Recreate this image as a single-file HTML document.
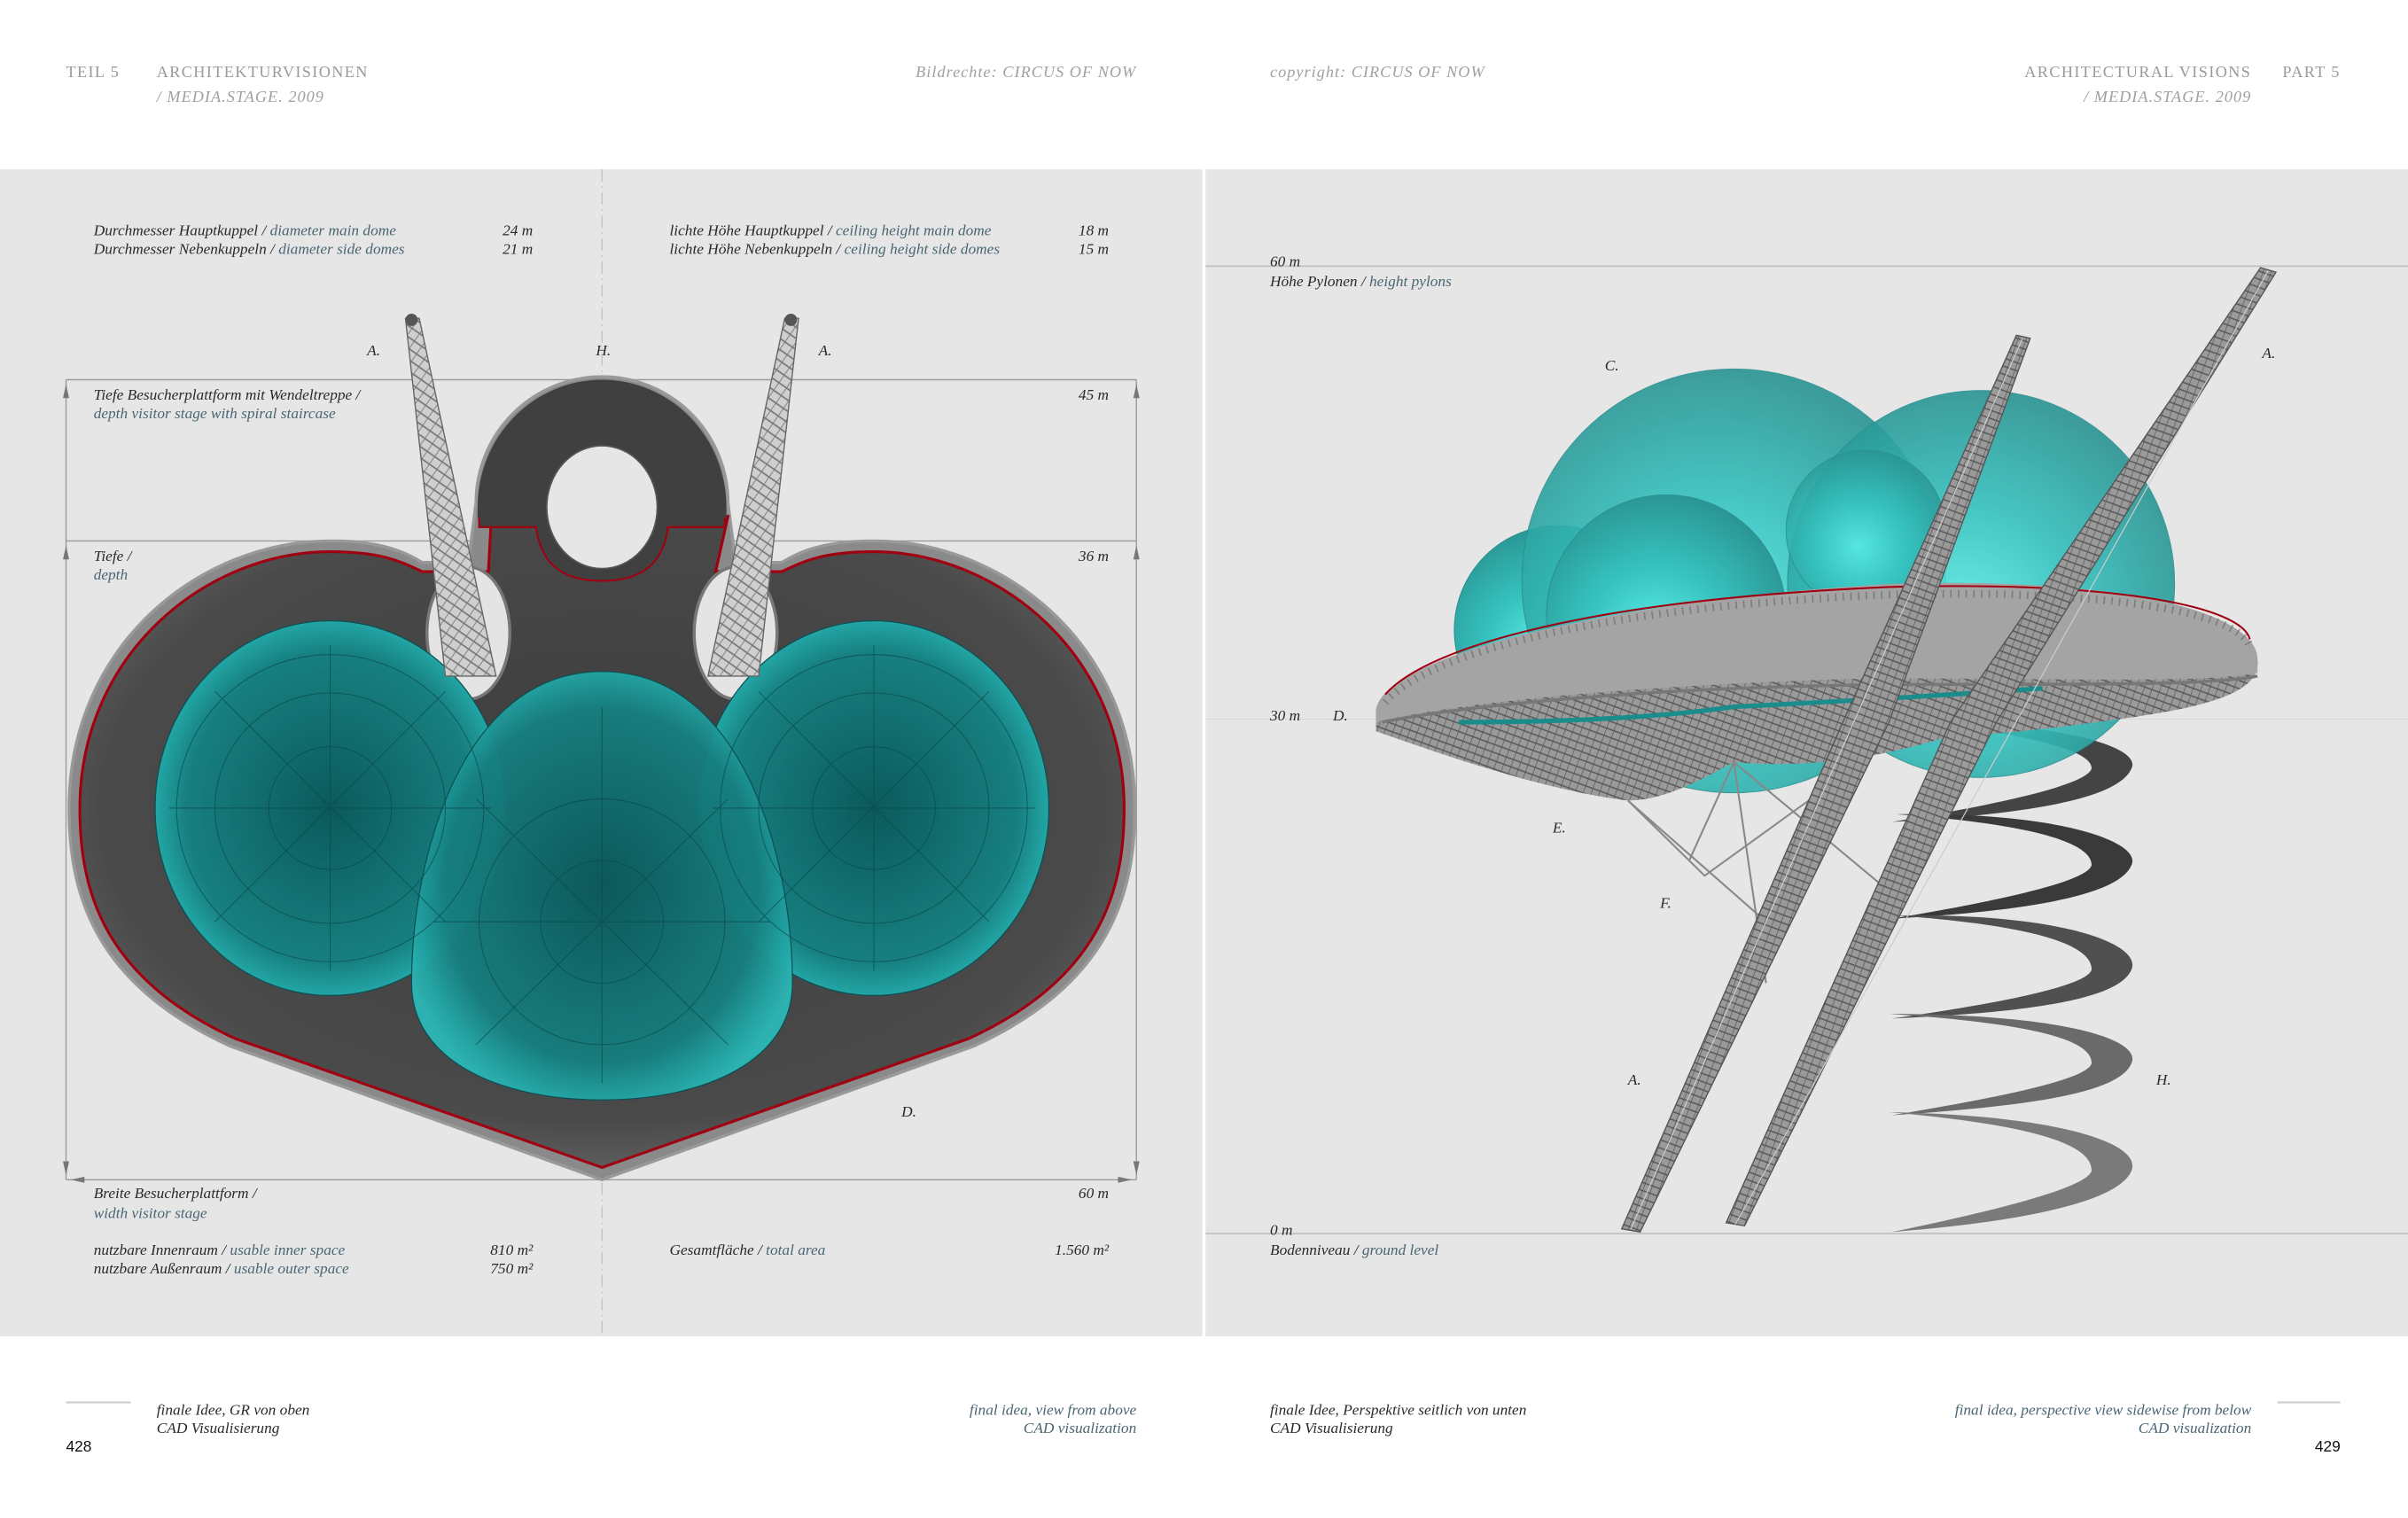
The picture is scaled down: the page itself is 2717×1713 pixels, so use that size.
<!DOCTYPE html>
<html><head><meta charset="utf-8"><style>
html,body{margin:0;padding:0;background:#fff;}
svg{display:block;}
text{font-family:"Liberation Serif",serif;font-style:italic;font-size:10px;fill:#2a2a2a;}
.b{fill:#4a6672;}
.h{font-style:normal;fill:#9a9a9a;font-size:10.5px;letter-spacing:0.8px;}
.hi{fill:#a0a0a0;font-size:10.5px;letter-spacing:0.6px;}
.r{text-anchor:end;}
.n{font-style:normal;font-family:"Liberation Sans",sans-serif;font-size:10px;fill:#111;}
</style></head><body>
<svg width="2717" height="1713" viewBox="0 0 1568 988" xmlns="http://www.w3.org/2000/svg">
<defs>
<radialGradient id="dome" cx="50%" cy="50%" r="55%">
<stop offset="0" stop-color="#0b5a5c"/><stop offset="0.75" stop-color="#177f80"/><stop offset="0.9" stop-color="#22a3a3"/><stop offset="1" stop-color="#2bb7b6"/></radialGradient>
<radialGradient id="body" cx="50%" cy="45%" r="60%">
<stop offset="0" stop-color="#3c3c3c"/><stop offset="0.8" stop-color="#4a4a4a"/><stop offset="1" stop-color="#6a6a6a"/></radialGradient>
<radialGradient id="d3" cx="45%" cy="60%" r="60%">
<stop offset="0" stop-color="#5ff0ec"/><stop offset="0.5" stop-color="#35c2bf"/><stop offset="1" stop-color="#2a9593"/></radialGradient>
<pattern id="lat" width="6" height="6" patternUnits="userSpaceOnUse" patternTransform="rotate(35)">
<rect width="6" height="6" fill="#cfcfcf"/><path d="M0,0 L0,6 M0,3 L6,3" stroke="#777" stroke-width="1"/></pattern>
<pattern id="lat2" width="5" height="5" patternUnits="userSpaceOnUse" patternTransform="rotate(20)">
<rect width="5" height="5" fill="#9a9a9a"/><path d="M0,0 L0,5 M0,2.5 L5,2.5" stroke="#555" stroke-width="0.8"/></pattern>
</defs>
<rect x="0" y="110" width="783" height="760" fill="#e6e6e6"/>
<rect x="785" y="110" width="783" height="760" fill="#e6e6e6"/>
<line x1="392" y1="110" x2="392" y2="870" stroke="#bbb" stroke-width="0.6" stroke-dasharray="8,3,1,3"/>

<g stroke="#9a9a9a" stroke-width="0.8" fill="none">
<line x1="43" y1="247" x2="740" y2="247"/>
<line x1="43" y1="352" x2="740" y2="352"/>
<line x1="43" y1="768" x2="740" y2="768"/>
<line x1="43" y1="247" x2="43" y2="768"/>
<line x1="740" y1="247" x2="740" y2="768"/>
</g>
<g fill="#777">
<path d="M43,250 l-2,9 h4z"/><path d="M740,250 l-2,9 h4z"/>
<path d="M43,355 l-2,9 h4z"/><path d="M740,355 l-2,9 h4z"/>
<path d="M43,765 l-2,-9 h4z"/><path d="M740,765 l-2,-9 h4z"/>
<path d="M46,768 l9,-2 v4z"/><path d="M737,768 l-9,-2 v4z"/>
</g>

<path d="M392,768 L150,681 C60,640 45,580 45,526 C45,420 130,352 215,352 C250,352 265,360 275,366 L305,366 L310,327 A82,82 0 0 1 474,327 L479,366 L509,366 C519,360 534,352 569,352 C654,352 739,420 739,526 C739,580 724,640 634,681 Z" fill="#8a8a8a" stroke="#999" stroke-width="2"/>
<path d="M392,760 L153,676 C66,636 52,578 52,526 C52,426 134,359 215,359 C250,359 262,366 275,372 L318,372 L320,336 L474,336 L466,372 L509,372 C522,366 534,359 569,359 C650,359 732,426 732,526 C732,578 718,636 631,676 Z" fill="url(#body)" stroke="#a00010" stroke-width="1.8"/>
<path d="M312,330 A80,82 0 0 1 472,330 L472,343 L435,343 C432,365 420,378 392,378 C364,378 352,365 349,343 L312,343 Z" fill="#404040" stroke="#a00010" stroke-width="1.2"/>
<path d="M311,330 A81,83 0 0 1 473,330 L473,337 L311,337Z" fill="#404040"/>
<ellipse cx="392" cy="330" rx="36" ry="40" fill="#e6e6e6" stroke="#555" stroke-width="1"/>

<ellipse cx="305" cy="412" rx="27" ry="43" fill="#e4e4e4" stroke="#777" stroke-width="2"/>
<ellipse cx="479" cy="412" rx="27" ry="43" fill="#e4e4e4" stroke="#777" stroke-width="2"/>

<g stroke="#0c4e50" stroke-width="0.7">
<ellipse cx="215" cy="526" rx="114" ry="122" fill="url(#dome)"/>
<ellipse cx="569" cy="526" rx="114" ry="122" fill="url(#dome)"/>
<path d="M268,640 C268,560 300,437 392,437 C484,437 516,560 516,640 C516,690 460,716 392,716 C324,716 268,690 268,640 Z" fill="url(#dome)" opacity="0.96"/>
</g>
<g fill="none" stroke="#0a4a4c" stroke-width="0.6" opacity="0.7">
<circle cx="215" cy="526" r="40"/><circle cx="215" cy="526" r="75"/><circle cx="215" cy="526" r="100"/>
<circle cx="569" cy="526" r="40"/><circle cx="569" cy="526" r="75"/><circle cx="569" cy="526" r="100"/>
<circle cx="392" cy="600" r="40"/><circle cx="392" cy="600" r="80"/>
<path d="M215,420 V632 M110,526 H320 M140,450 L290,600 M140,600 L290,450 M569,420 V632 M464,526 H674 M494,450 L644,600 M494,600 L644,450 M392,460 V705 M282,600 H502 M310,520 L474,680 M310,680 L474,520"/>
</g>

<polygon points="264,207 273,207 323,440 290,440" fill="url(#lat)" stroke="#666" stroke-width="0.8"/>
<polygon points="520,207 511,207 461,440 494,440" fill="url(#lat)" stroke="#666" stroke-width="0.8"/>
<circle cx="268" cy="208" r="4" fill="#555"/><circle cx="515" cy="208" r="4" fill="#555"/>

<!-- RIGHT PAGE -->
<line x1="785" y1="173" x2="1568" y2="173" stroke="#c6c6c6" stroke-width="1.2"/>
<line x1="785" y1="468" x2="1568" y2="468" stroke="#d8d8d8" stroke-width="0.6"/>
<line x1="785" y1="803" x2="1568" y2="803" stroke="#c6c6c6" stroke-width="1.2"/>

<g>
<path d="M1250,470 C1340,470 1395,486 1388,500 C1380,520 1320,530 1232,535 C1310,522 1360,510 1362,500 C1362,488 1320,478 1250,470Z" fill="#444"/>
<path d="M1235,530 C1340,528 1395,548 1388,563 C1380,583 1320,593 1232,598 C1310,585 1360,573 1362,563 C1362,548 1320,536 1235,530Z" fill="#3a3a3a"/>
<path d="M1235,596 C1340,594 1395,614 1388,631 C1380,651 1320,659 1232,663 C1310,652 1360,641 1362,631 C1362,614 1320,602 1235,596Z" fill="#505050"/>
<path d="M1230,660 C1340,660 1395,676 1388,692 C1380,712 1320,720 1232,726 C1310,713 1360,702 1362,692 C1362,676 1320,666 1230,660Z" fill="#6a6a6a"/>
<path d="M1230,724 C1340,726 1395,744 1388,762 C1380,782 1320,795 1232,802 C1310,786 1360,772 1362,762 C1362,744 1320,732 1230,724Z" fill="#7a7a7a"/>
</g>

<g stroke="#2a8f8e" stroke-width="0.6">
<circle cx="1015" cy="410" r="68" fill="url(#d3)"/>
<circle cx="1129" cy="378" r="138" fill="url(#d3)" opacity="0.9"/>
<circle cx="1290" cy="380" r="126" fill="url(#d3)" opacity="0.9"/>
<circle cx="1085" cy="400" r="78" fill="url(#d3)" opacity="0.95"/>
<circle cx="1215" cy="345" r="52" fill="url(#d3)" opacity="0.8"/>
</g>

<!-- platform -->
<path d="M896,462 C898,440 1020,395 1230,380 C1390,375 1468,400 1470,430 C1472,450 1440,460 1380,468 C1330,475 1300,478 1270,479 C1220,495 1170,500 1129,496 C1100,512 1080,521 1060,521 C1010,515 950,495 896,476Z" fill="url(#lat2)"/>
<path d="M896,462 C900,430 1030,392 1230,380 C1390,375 1468,400 1470,428 L1470,438 C1430,446 1300,440 1200,442 C1080,446 960,455 896,470Z" fill="#a4a4a4"/>
<path d="M900,470 C960,458 1080,448 1200,446 C1300,444 1430,448 1470,440" fill="none" stroke="#777" stroke-width="2"/>
<path d="M902,452 C930,420 1040,390 1230,382 C1380,378 1460,395 1465,416" fill="none" stroke="#a00010" stroke-width="1.2"/>
<path d="M902,452 C930,420 1040,390 1230,382 C1380,378 1460,395 1465,416" fill="none" stroke="#666" stroke-width="5" stroke-dasharray="1,4" opacity="0.6" transform="translate(0,5)"/>
<path d="M950,470 Q1060,470 1129,460 Q1230,455 1330,448" fill="none" stroke="#1a8c8c" stroke-width="3"/>
<g stroke="#888" stroke-width="1.2" fill="none">
<path d="M1060,521 L1110,570 L1200,505 M1129,496 L1150,640 M1129,496 L1230,580 M1060,521 L1150,600 M1129,496 L1100,560"/>
</g>

<!-- pylons 3d -->
<polygon points="1313,218 1322,220 1230,470 1068,802 1056,800 1200,470" fill="url(#lat2)" stroke="#555" stroke-width="0.8"/>
<polygon points="1472,174 1482,177 1300,470 1136,798 1124,796 1270,470" fill="url(#lat2)" stroke="#555" stroke-width="0.8"/>
<g stroke="#ccc" stroke-width="0.7">
<line x1="1317" y1="220" x2="1062" y2="800"/><line x1="1477" y1="176" x2="1130" y2="797"/>
</g>

<text x="43" y="50" class="h">TEIL 5</text>
<text x="102" y="50" class="h">ARCHITEKTURVISIONEN</text>
<text x="102" y="66" class="hi">/ MEDIA.STAGE. 2009</text>
<text x="740" y="50" class="hi r">Bildrechte: CIRCUS OF NOW</text>
<text x="827" y="50" class="hi">copyright: CIRCUS OF NOW</text>
<text x="1466" y="50" class="h r">ARCHITECTURAL VISIONS</text>
<text x="1524" y="50" class="h r">PART 5</text>
<text x="1466" y="66" class="hi r">/ MEDIA.STAGE. 2009</text>

<text x="61" y="153">Durchmesser Hauptkuppel / <tspan class="b">diameter main dome</tspan></text>
<text x="61" y="165">Durchmesser Nebenkuppeln / <tspan class="b">diameter side domes</tspan></text>
<text x="347" y="153" class="r">24 m</text><text x="347" y="165" class="r">21 m</text>
<text x="436" y="153">lichte Höhe Hauptkuppel / <tspan class="b">ceiling height main dome</tspan></text>
<text x="436" y="165">lichte Höhe Nebenkuppeln / <tspan class="b">ceiling height side domes</tspan></text>
<text x="722" y="153" class="r">18 m</text><text x="722" y="165" class="r">15 m</text>
<text x="239" y="231">A.</text><text x="388" y="231">H.</text><text x="533" y="231">A.</text>
<text x="61" y="260">Tiefe Besucherplattform mit Wendeltreppe /</text>
<text x="61" y="272" class="b">depth visitor stage with spiral staircase</text>
<text x="722" y="260" class="r">45 m</text>
<text x="61" y="365">Tiefe /</text><text x="61" y="377" class="b">depth</text>
<text x="722" y="365" class="r">36 m</text>
<text x="587" y="727">D.</text>
<text x="61" y="780">Breite Besucherplattform /</text>
<text x="61" y="793" class="b">width visitor stage</text>
<text x="722" y="780" class="r">60 m</text>
<text x="61" y="817">nutzbare Innenraum / <tspan class="b">usable inner space</tspan></text>
<text x="61" y="829">nutzbare Außenraum / <tspan class="b">usable outer space</tspan></text>
<text x="347" y="817" class="r">810 m²</text><text x="347" y="829" class="r">750 m²</text>
<text x="436" y="817">Gesamtfläche / <tspan class="b">total area</tspan></text>
<text x="722" y="817" class="r">1.560 m²</text>

<text x="827" y="173">60 m</text>
<text x="827" y="186">Höhe Pylonen / <tspan class="b">height pylons</tspan></text>
<text x="1045" y="241">C.</text><text x="1473" y="233">A.</text>
<text x="827" y="469">30 m</text><text x="868" y="469">D.</text>
<text x="1011" y="542">E.</text><text x="1081" y="591">F.</text>
<text x="1060" y="706">A.</text><text x="1404" y="706">H.</text>
<text x="827" y="804">0 m</text>
<text x="827" y="817">Bodenniveau / <tspan class="b">ground level</tspan></text>

<line x1="43" y1="913" x2="85" y2="913" stroke="#ccc" stroke-width="1.2"/>
<line x1="1483" y1="913" x2="1524" y2="913" stroke="#ccc" stroke-width="1.2"/>
<text x="102" y="921">finale Idee, GR von oben</text>
<text x="102" y="933">CAD Visualisierung</text>
<text x="740" y="921" class="b r">final idea, view from above</text>
<text x="740" y="933" class="b r">CAD visualization</text>
<text x="827" y="921">finale Idee, Perspektive seitlich von unten</text>
<text x="827" y="933">CAD Visualisierung</text>
<text x="1466" y="921" class="b r">final idea, perspective view sidewise from below</text>
<text x="1466" y="933" class="b r">CAD visualization</text>
<text x="43" y="945" class="n">428</text>
<text x="1524" y="945" class="n r">429</text>
</svg>
</body></html>
